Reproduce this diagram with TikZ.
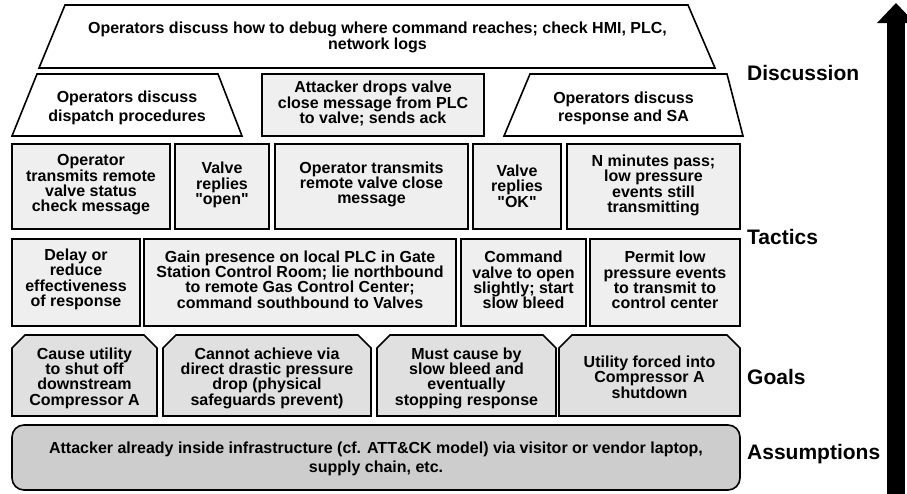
\documentclass[tikz,border=0pt]{standalone}
\usepackage{fontspec}
\setmainfont{Liberation Sans}[Ligatures=TeXOff]
\definecolor{tacfill}{HTML}{EFEFEF}
\definecolor{goalfill}{HTML}{E0E0E0}
\definecolor{assfill}{HTML}{CDCDCD}
\tikzset{
  shp/.style={draw=black, line width=1.6pt, line join=miter},
  tac/.style={shp, fill=tacfill},
  goal/.style={shp, fill=goalfill},
  ass/.style={shp, fill=assfill, rounded corners=12pt},
  disc/.style={shp, fill=white},
  txt/.style={align=center, inner sep=0pt, font=\fontsize{16}{15.3}\selectfont\bfseries},
  txtw/.style={align=center, inner sep=0pt, font=\fontsize{16}{18.5}\selectfont\bfseries},
  lbl/.style={anchor=west, inner sep=0pt, font=\fontsize{21}{24}\selectfont\bfseries},
}
\begin{document}
\begin{tikzpicture}[x=1pt,y=-1pt]
\useasboundingbox (0,0) rectangle (907,493);
\clip (0,0) rectangle (907,493);
% ---- Discussion layer
\draw[disc] (65,5) -- (688,5) -- (715,68) -- (39,68) -- cycle;
\node[txt] (d0) at (377.5,37.5) {Operators discuss how to debug where command reaches; check HMI, PLC,\\network logs};
\draw[disc] (37,74) -- (218,74) -- (242,136) -- (12,136) -- cycle;
\node[txtw] (d1) at (127,108) {Operators discuss\\dispatch procedures};
\draw[tac] (262,74) rectangle (484,136);
\node[txt] (d2) at (373,103.5) {Attacker drops valve\\close message from PLC\\to valve; sends ack};
\draw[disc] (530,74) -- (727,74) -- (743,136) -- (504,136) -- cycle;
\node[txtw] (d3) at (623.5,108.5) {Operators discuss\\response and SA};
% ---- Tactics row 1
\draw[tac] (12,144) rectangle (170,229);
\node[txt] (t1) at (91,185) {Operator\\transmits remote\\valve status\\check message};
\draw[tac] (175,144) rectangle (269,229);
\node[txt] (t2) at (222,185) {Valve\\replies\\"open"};
\draw[tac] (275,144) rectangle (468,229);
\node[txt] (t3) at (371.5,184.5) {Operator transmits\\remote valve close\\message};
\draw[tac] (473,144) rectangle (561,229);
\node[txt] (t4) at (517,186) {Valve\\replies\\"OK"};
\draw[tac] (567,144) rectangle (740,229);
\node[txt] (t5) at (653.5,185.5) {N minutes pass;\\low pressure\\events still\\transmitting};
% ---- Tactics row 2
\draw[tac] (12,239) rectangle (140,326);
\node[txt] (u1) at (76,279.5) {Delay or\\reduce\\effectiveness\\of response};
\draw[tac] (144,239) rectangle (456,326);
\node[txt] (u2) at (300,279.5) {Gain presence on local PLC in Gate\\Station Control Room; lie northbound\\to remote Gas Control Center;\\command southbound to Valves};
\draw[tac] (461,239) rectangle (586,326);
\node[txt] (u3) at (523.5,280) {Command\\valve to open\\slightly; start\\slow bleed};
\draw[tac] (590,239) rectangle (740,326);
\node[txt] (u4) at (665,280) {Permit low\\pressure events\\to transmit to\\control center};
% ---- Goals
\draw[goal] (12,416) -- (12,348) -- (25,335) -- (144,335) -- (157,348) -- (157,416) -- cycle;
\node[txt] (g1) at (84.5,378) {Cause utility\\to shut off\\downstream\\Compressor A};
\draw[goal] (163,416) -- (163,348) -- (176,335) -- (358,335) -- (371,348) -- (371,416) -- cycle;
\node[txt] (g2) at (267,378) {Cannot achieve via\\direct drastic pressure\\drop (physical\\safeguards prevent)};
\draw[goal] (377,416) -- (377,348) -- (390,335) -- (543,335) -- (556,348) -- (556,416) -- cycle;
\node[txt] (g3) at (466.5,378) {Must cause by\\slow bleed and\\eventually\\stopping response};
\draw[goal] (559,416) -- (559,348) -- (572,335) -- (727,335) -- (740,348) -- (740,416) -- cycle;
\node[txt] (g4) at (649.5,377) {Utility forced into\\Compressor A\\shutdown};
% ---- Assumptions
\draw[ass] (12,425) rectangle (740,490);
\node[txtw] (a1) at (376,459) {Attacker already inside infrastructure (cf. ATT\&CK model) via visitor or vendor laptop,\\supply chain, etc.};
% ---- Layer labels
\node[lbl] (lD) at (747,73) {Discussion};
\node[lbl] (lT) at (747,237) {Tactics};
\node[lbl] (lG) at (747,377) {Goals};
\node[lbl] (lA) at (747,454) {Assumptions};
% ---- Arrow
\fill[black] (887,23) rectangle (905,500);
\fill[black] (877,23) -- (896,3) -- (915,23) -- cycle;
\end{tikzpicture}
\end{document}
